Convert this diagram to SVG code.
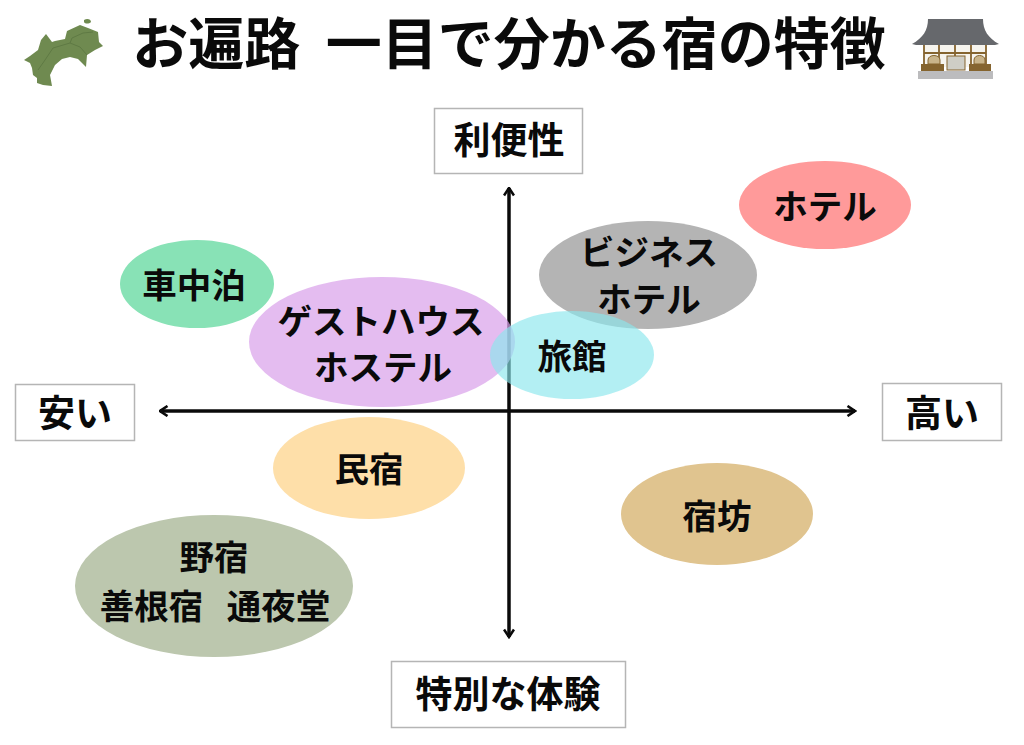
<svg xmlns="http://www.w3.org/2000/svg" width="1024" height="745" viewBox="0 0 1024 745">
<style>
text{font-family:"Noto Sans CJK JP","Noto Sans",sans-serif;font-weight:700;fill:#0a0a0a;text-anchor:middle}
.t{font-size:34.500px}
.l{font-size:37px}
.title{font-size:56px}
.box{fill:#fff;stroke:#b5b5b5;stroke-width:1.5}
.axis{stroke:#0a0a0a;stroke-width:3.500;fill:none;marker-start:url(#a);marker-end:url(#a)}
.b{stroke:#85642f;stroke-width:1.8;fill:none}
</style>
<defs>
<marker id="a" viewBox="0 0 12 12" refX="10.500" refY="6" markerWidth="12" markerHeight="12" markerUnits="userSpaceOnUse" orient="auto-start-reverse"><path d="M3 1L10.500 6L3 11" fill="none" stroke="#0a0a0a" stroke-width="2.600"/></marker>
</defs>
<rect width="1024" height="745" fill="#fff"/>
<g id="title"><text class="title" x="509" y="64" xml:space="preserve">お遍路  一目で分かる宿の特徴</text></g>
<g id="map-icon">
<path d="M24 60L30 56L38 50L41 40L46 34L52 42L55 41L65 39L67 31L80 25L88 28L98 32L99 42L103 46L95 50L87 55L86 67L78 59L70 57L62 59L55 65L50 75L52 86L43 85L37 83L37 78L33 75L32 68L30 63Z" fill="#6f8a50"/>
<path d="M84 20C87 18 91 19 91 22C89 24 85 24 84 22Z" fill="#6f8a50"/>
<path d="M38 70L45 60L53 48L70 43L72 38L83 33L93 32M70 43L80 47L87 55" fill="none" stroke="#5f7a44" stroke-width="1"/>
</g>
<g id="temple-icon">
<path d="M928 19H983C983 30 988 38 999 44L995 45H916L912 44C923 38 928 30 928 19Z" fill="#66686c"/>
<rect x="924" y="45" width="63" height="22" fill="#f6f4ee"/>
<path d="M924 45V65M939 45V65M955 45V68M971 45V65M986 45V65M924 53H986" class="b"/>
<rect x="947" y="56" width="18" height="14" fill="#cfcec6" stroke="#85642f"/>
<path d="M928 64V60C928 54 940 54 940 60V64ZM974 64V60C974 54 985 54 985 60V64Z" fill="#c9b48a" stroke="#85642f"/>
<rect x="921" y="64" width="23" height="7" fill="#85642f"/>
<rect x="969" y="64" width="22" height="7" fill="#85642f"/>
<rect x="918" y="71" width="75" height="8" fill="#bcbcbe"/>
</g>
<g id="connectors">
<path class="axis" d="M509 188V637"/>
<path class="axis" d="M160 411H855"/>
</g>
<g id="node-top"><rect class="box" x="434.500" y="108.500" width="148" height="65"/><text class="l" x="509" y="154">利便性</text></g>
<g id="node-bottom"><rect class="box" x="391.500" y="661.500" width="234" height="66"/><text class="l" x="508" y="708">特別な体験</text></g>
<g id="node-left"><rect class="box" x="15.500" y="384.500" width="119" height="56"/><text class="l" x="75" y="427">安い</text></g>
<g id="node-right"><rect class="box" x="882.500" y="383.500" width="119" height="57"/><text class="l" x="942" y="427">高い</text></g>
<g id="hotel"><ellipse cx="825" cy="205" rx="86" ry="44" fill="#ff9a9a"/><text class="t" x="825" y="219">ホテル</text></g>
<g id="business"><ellipse cx="648" cy="275" rx="109" ry="54" fill="#b4b4b4"/><text class="t" x="649" y="265">ビジネス</text><text class="t" x="649" y="312">ホテル</text></g>
<g id="shachuhaku"><ellipse cx="197" cy="284" rx="77" ry="44" fill="#88e2b6"/><text class="t" x="194" y="298">車中泊</text></g>
<g id="guesthouse"><ellipse cx="382" cy="342" rx="133" ry="65" fill="#d9a0e9" fill-opacity=".7"/><text class="t" x="381" y="334">ゲストハウス</text><text class="t" x="383" y="380">ホステル</text></g>
<g id="ryokan"><ellipse cx="572" cy="355" rx="82" ry="44" fill="#8ae6ec" fill-opacity=".65"/><text class="t" x="572" y="369">旅館</text></g>
<g id="minshuku"><ellipse cx="369" cy="468" rx="96" ry="51" fill="#fedfa9"/><text class="t" x="369" y="482">民宿</text></g>
<g id="shukubo"><ellipse cx="717" cy="514" rx="96" ry="51" fill="#e0c48f"/><text class="t" x="717" y="529">宿坊</text></g>
<g id="nojuku"><ellipse cx="214" cy="586" rx="139" ry="71" fill="#bcc7ae"/><text class="t" x="214" y="570">野宿</text><text class="t" x="215" y="619" xml:space="preserve" word-spacing="4">善根宿  通夜堂</text></g>
</svg>
